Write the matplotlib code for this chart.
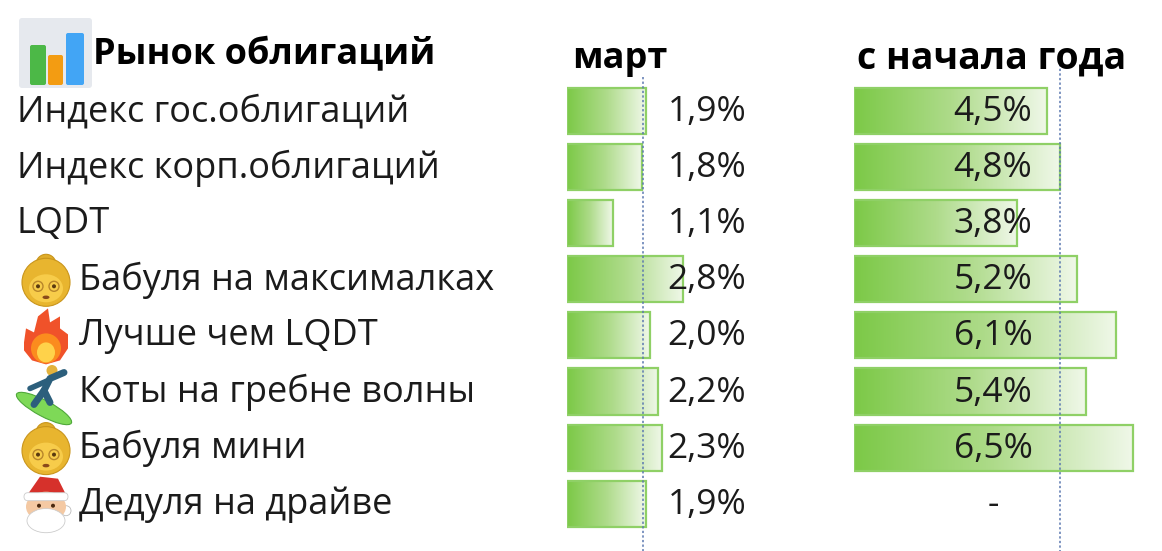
import numpy as np
import matplotlib
matplotlib.use("Agg")
import matplotlib.pyplot as plt
from matplotlib.colors import LinearSegmentedColormap
from matplotlib.patches import Circle, Ellipse, Polygon, FancyBboxPatch

# данные
names = ["Индекс гос.облигаций", "Индекс корп.облигаций", "LQDT",
         "Бабуля на максималках", "Лучше чем LQDT", "Коты на гребне волны",
         "Бабуля мини", "Дедуля на драйве"]
icons = [None, None, None, "granny", "fire", "surfer", "granny", "santa"]
march = [1.9, 1.8, 1.1, 2.8, 2.0, 2.2, 2.3, 1.9]
ytd = [4.5, 4.8, 3.8, 5.2, 6.1, 5.4, 6.5, np.nan]

title = "Рынок облигаций"
col_march = "март"
col_ytd = "с начала года"

W, H = 1162, 551
FONT = ["Open Sans", "DejaVu Sans"]
TXT = "#1b1b1b"

fig = plt.figure(figsize=(W / 100, H / 100), dpi=100)
fig.patch.set_facecolor("white")

row0, pitch = 111, 56.1
n = len(names)
top_px = row0 - pitch / 2
bot_px = row0 + pitch * (n - 0.5)

cmap = LinearSegmentedColormap.from_list("bar", ["#7cc947", "#aedb8a", "#f0f8e9"])
grad = np.linspace(0, 1, 256).reshape(1, -1)


def bar_axes(left_px, width_px, px_per_unit):
    ax = fig.add_axes([left_px / W, 1 - bot_px / H, width_px / W, (bot_px - top_px) / H])
    ax.axis("off")
    return ax, (0, width_px / px_per_unit)


def gradient_bars(ax, vals, xlim):
    h = 0.82
    for i, v in enumerate(vals):
        if np.isnan(v):
            continue
        b = ax.barh(i, v, height=h, color="none", edgecolor="#8fd066", lw=1.6, zorder=3)[0]
        im = ax.imshow(grad, extent=[0, v, i + h / 2, i - h / 2], aspect="auto",
                       cmap=cmap, zorder=2, interpolation="bilinear")
        im.set_clip_path(b)
    ax.set_xlim(*xlim)
    ax.set_ylim(n - 0.5, -0.5)


ax_m, lim_m = bar_axes(567, 250, 41.5)
gradient_bars(ax_m, march, lim_m)

ax_y, lim_y = bar_axes(853.5, 300, 43.0)
gradient_bars(ax_y, ytd, lim_y)

# верхний слой: текст, пунктиры, значки
ax = fig.add_axes([0, 0, 1, 1])
ax.set_xlim(0, W)
ax.set_ylim(H, 0)
ax.axis("off")
ax.patch.set_alpha(0)

ax.plot([643, 643], [77, H], ls=(0, (1.5, 1.5)), color="#5b78b0", lw=1.1)
ax.plot([1060, 1060], [55, H], ls=(0, (1.5, 1.5)), color="#5b78b0", lw=1.1)

# значок заголовка
ax.add_patch(FancyBboxPatch((19, 18), 73, 70, boxstyle="round,pad=0,rounding_size=3",
                            fc="#e6e9ee", ec="none"))
for x0, x1, y_top, c in [(30, 46, 45, "#4cb847"), (48, 63, 55, "#f39c12"), (66, 84, 33, "#42a5f5")]:
    ax.add_patch(FancyBboxPatch((x0, y_top), x1 - x0, 85 - y_top,
                                boxstyle="round,pad=0,rounding_size=2", fc=c, ec="none"))

ax.text(93, 55, title, fontsize=26, fontweight="bold", family=FONT, color="black", va="center")
ax.text(572, 59, col_march, fontsize=26, fontweight="bold", family=FONT, color="black", va="center")
ax.text(857, 59, col_ytd, fontsize=27, fontweight="bold", family=FONT, color="black", va="center")


def granny(cx, cy):
    ax.add_patch(Circle((cx, cy - 16), 10, fc="#e0ad2a", ec="#c9951c", lw=0.8))
    ax.add_patch(Circle((cx, cy + 2), 24, fc="#e8b52f", ec="#c9951c", lw=0.8))
    ax.add_patch(Ellipse((cx, cy + 8), 34, 28, fc="#f7cc4a", ec="none"))
    for dx in (-8, 8):
        ax.add_patch(Circle((cx + dx, cy + 6), 5, fc="none", ec="#b8862a", lw=1))
        ax.add_patch(Circle((cx + dx, cy + 6), 2, fc="#5a3a10", ec="none"))
    ax.add_patch(Ellipse((cx, cy + 17), 7, 3.5, fc="#8a4a1a", ec="none"))


def fire(cx, cy):
    outer = [(cx - 22, cy + 6), (cx - 20, cy - 8), (cx - 12, cy - 4), (cx - 8, cy - 20),
             (cx + 2, cy - 28), (cx + 4, cy - 14), (cx + 14, cy - 20), (cx + 14, cy - 8),
             (cx + 22, cy - 2), (cx + 22, cy + 12), (cx + 14, cy + 24), (cx, cy + 28),
             (cx - 14, cy + 24), (cx - 22, cy + 14)]
    ax.add_patch(Polygon(outer, closed=True, fc="#f0522a", ec="none"))
    ax.add_patch(Ellipse((cx, cy + 12), 30, 30, fc="#fb8c1e", ec="none"))
    ax.add_patch(Ellipse((cx, cy + 16), 18, 20, fc="#ffd24a", ec="none"))


def surfer(cx, cy):
    ax.add_patch(Ellipse((cx - 2, cy + 16), 62, 16, angle=28, fc="#7ed957", ec="#4fa83a", lw=0.8))
    ax.plot([cx - 12, cx - 2, cx + 4], [cy + 12, cy - 2, cy + 10], color="#2c5f7c", lw=5,
            solid_capstyle="round")
    ax.plot([cx - 2, cx + 4, cx + 18], [cy - 2, cy - 14, cy - 20], color="#2c5f7c", lw=5,
            solid_capstyle="round")
    ax.plot([cx - 16, cx + 2], [cy - 4, cy - 12], color="#2c5f7c", lw=4, solid_capstyle="round")
    ax.add_patch(Circle((cx + 6, cy - 22), 5.5, fc="#e3b23c", ec="none"))


def santa(cx, cy):
    ax.add_patch(Polygon([(cx - 20, cy - 8), (cx - 6, cy - 28), (cx + 12, cy - 26),
                          (cx + 22, cy - 6)], closed=True, fc="#d6312b", ec="none"))
    ax.add_patch(Circle((cx + 20, cy + 6), 5, fc="white", ec="#bbbbbb", lw=0.6))
    ax.add_patch(Ellipse((cx, cy + 2), 40, 30, fc="#f4c9a3", ec="none"))
    ax.add_patch(FancyBboxPatch((cx - 22, cy - 12), 44, 8, boxstyle="round,pad=0,rounding_size=4",
                                fc="white", ec="#cccccc", lw=0.6))
    ax.add_patch(Ellipse((cx, cy + 16), 38, 24, fc="white", ec="#cccccc", lw=0.6))
    ax.add_patch(Ellipse((cx, cy + 8), 22, 7, fc="white", ec="none"))
    for dx in (-7, 7):
        ax.add_patch(Circle((cx + dx, cy + 1), 2, fc="#4a2a10", ec="none"))


drawers = {"granny": granny, "fire": fire, "surfer": surfer, "santa": santa}

for i, (name, icon) in enumerate(zip(names, icons)):
    y = row0 + pitch * i + 1
    x = 17
    if icon is not None:
        drawers[icon](46, y)
        x = 79
    ax.text(x, y, name, fontsize=26, family=FONT, color=TXT, va="center")
    ax.text(707, y, f"{march[i]:.1f}%".replace(".", ","), fontsize=25.5, family=FONT,
            color=TXT, va="center", ha="center")
    yv = "-" if np.isnan(ytd[i]) else f"{ytd[i]:.1f}%".replace(".", ",")
    ax.text(993, y, yv, fontsize=25.5, family=FONT, color=TXT, va="center", ha="center")

fig.savefig("out.png", dpi=100, facecolor="white")
